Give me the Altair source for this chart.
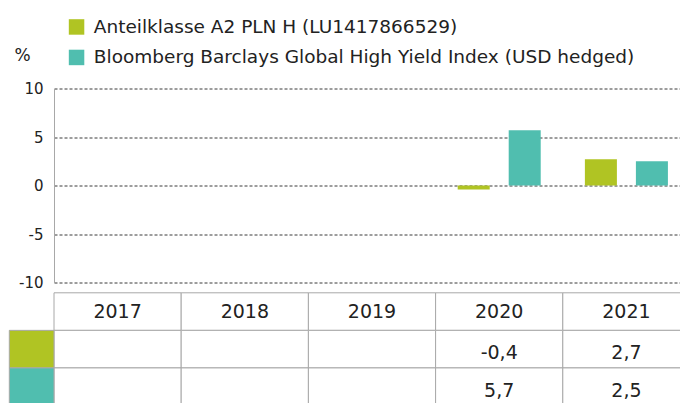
import altair as alt
import pandas as pd

years = ["2017", "2018", "2019", "2020", "2021"]
series_names = [
    "Anteilklasse A2 PLN H (LU1417866529)",
    "Bloomberg Barclays Global High Yield Index (USD hedged)",
]
series_rows = ["a", "b"]
fund_values = [None, None, None, -0.4, 2.7]
index_values = [None, None, None, 5.7, 2.5]
colors = ["#B0C423", "#50BEAF"]
y_ticks = [-10, -5, 0, 5, 10]
table_rows = ["h", "a", "b"]

FONT = "DejaVu Sans"
TXT = "#222222"
LINE = "#A8A8A8"

records = []
for code, name, vals in zip(series_rows, series_names, [fund_values, index_values]):
    for yr, v in zip(years, vals):
        records.append({
            "year": yr, "series": name, "row": code, "value": v,
            "label": "" if v is None else f"{v:.1f}".replace(".", ","),
        })
df = pd.DataFrame(records)
bars_df = df[df["value"].notna()].copy()

hdr_df = pd.DataFrame({"year": years, "row": ["h"] * len(years)})
cells_df = pd.DataFrame([{"year": y, "row": r} for r in table_rows for y in years])
sw_df = pd.DataFrame({"series": series_names, "row": series_rows})

x_scale = alt.Scale(domain=years, range=[0, 636], paddingInner=0, paddingOuter=0)
y_tab = alt.Scale(type="band", domain=table_rows, range=[204.3, 317], paddingInner=0, paddingOuter=0)
color_scale = alt.Scale(domain=series_names, range=colors)
legend = alt.Legend(
    orient="none", legendX=13.3, legendY=-70.8, title=None, symbolType="square",
    symbolSize=240, symbolStrokeWidth=0, labelFont=FONT, labelFontSize=18.5,
    labelColor=TXT, labelOffset=8, rowPadding=11.5, labelLimit=700, padding=0,
    direction="vertical",
)

bars = alt.Chart(bars_df).mark_bar().encode(
    x=alt.X("year:N", scale=x_scale, axis=None),
    xOffset=alt.XOffset("series:N", scale=alt.Scale(domain=series_names, paddingInner=0.3725, paddingOuter=0.433)),
    y=alt.Y(
        "value:Q",
        scale=alt.Scale(domain=[-10, 10], range=[194, 0], nice=False, zero=False),
        axis=alt.Axis(
            values=y_ticks, grid=True, gridColor="#3A3A3A", gridDash=[3, 2], gridWidth=1,
            domain=True, domainColor=LINE, domainWidth=1, ticks=False, labelPadding=11,
            labelFont=FONT, labelFontSize=15, labelColor=TXT, labelExpr="datum.value + ''",
            title="%", titleAngle=0, titleX=-32, titleY=-33.5, titleAlign="center",
            titleBaseline="middle", titleFont=FONT, titleFontSize=17, titleFontWeight="normal",
            titleColor=TXT,
        ),
    ),
    color=alt.Color("series:N", scale=color_scale, legend=legend),
)

cells = alt.Chart(cells_df).mark_rect(fill="white", stroke=LINE, strokeWidth=1).encode(
    x=alt.X("year:N", scale=x_scale, axis=None),
    y=alt.Y("row:N", scale=y_tab, axis=None),
)

swatch = alt.Chart(sw_df).mark_rect(stroke=LINE, strokeWidth=1).encode(
    x=alt.value(-44.7), x2=alt.value(0),
    y=alt.Y("row:N", scale=y_tab, axis=None),
    color=alt.Color("series:N", scale=color_scale, legend=legend),
)

hdr_text = alt.Chart(hdr_df).mark_text(font=FONT, fontSize=19, color=TXT).encode(
    x=alt.X("year:N", scale=x_scale, axis=None),
    y=alt.Y("row:N", scale=y_tab, axis=None),
    text="year:N",
)

val_text = alt.Chart(df).mark_text(font=FONT, fontSize=19, color=TXT, dy=4).encode(
    x=alt.X("year:N", scale=x_scale, axis=None),
    y=alt.Y("row:N", scale=y_tab, axis=None),
    text="label:N",
)

chart = alt.layer(bars, cells, swatch, hdr_text, val_text).resolve_scale(
    y="independent"
).properties(
    width=626, height=314.5,
    autosize=alt.AutoSizeParams(type="none"),
    padding={"left": 54, "top": 88.5, "right": 0, "bottom": 0},
    background="white",
).configure_view(stroke=None)

chart.save("out.html", embed_options={"renderer": "svg", "actions": False})
